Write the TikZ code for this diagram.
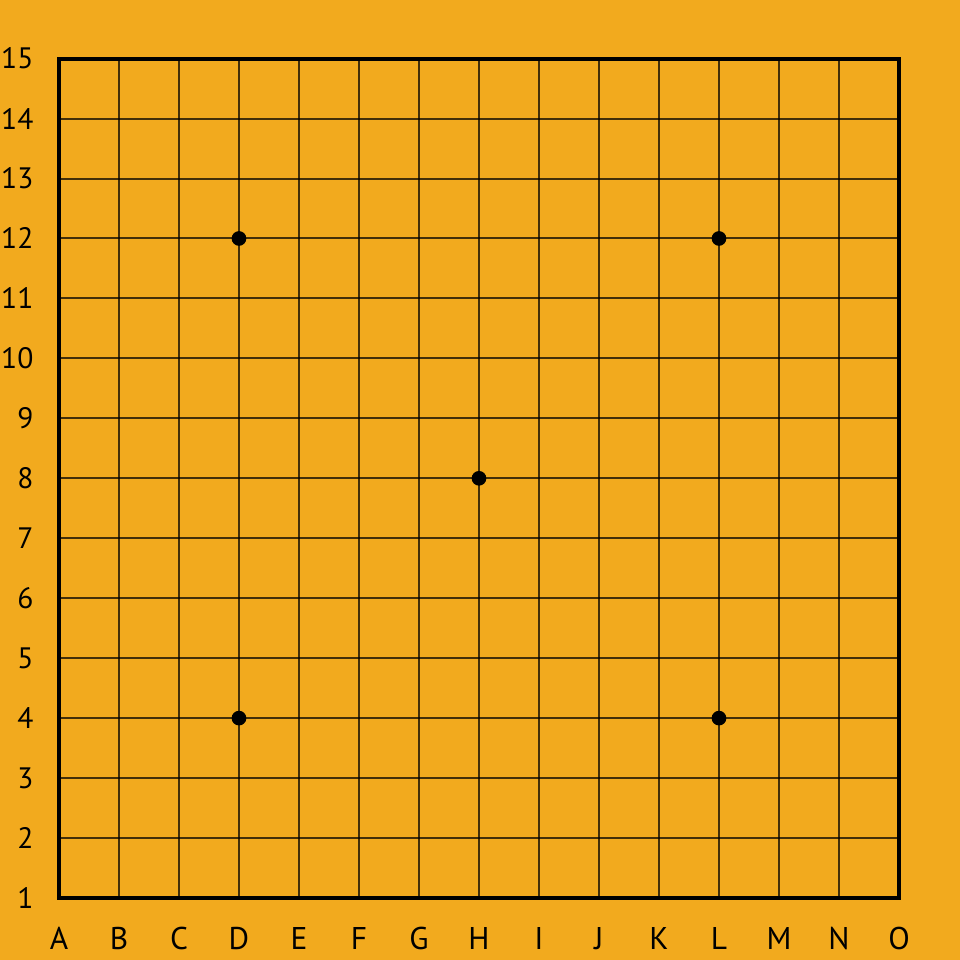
\documentclass[tikz,border=0pt]{standalone}
\usepackage{fontspec}
\setmainfont{PT Sans}
\usepackage{xcolor}
\usetikzlibrary{positioning}
\definecolor{boardbg}{HTML}{F2AA1E}

\begin{document}
\begin{tikzpicture}[
x=1cm, y=1cm,
gridline/.style={draw=black, opacity=0.72, line width=0.95pt},
border/.style={draw=black, line width=1.9pt, line join=miter},
star/.style={circle, fill=black, inner sep=0pt, minimum size=0.245cm},
rowlabel/.style={anchor=east, font=\fontsize{14}{16}\selectfont, inner sep=0pt},
collabel/.style={anchor=center, font=\fontsize{14.9}{16}\selectfont, inner sep=0pt}
]

\useasboundingbox (0,0) rectangle (16,16);
\fill[boardbg] (0,0) rectangle (16,16);

\begin{scope}[shift={(0.983,1.033)}, y=0.9993cm]
% inner lines
\foreach \i in {1,...,13} {
  \draw[gridline] (\i,0) -- (\i,14);
  \draw[gridline] (0,\i) -- (14,\i);
}
\draw[border] (0,0) rectangle (14,14);

% star points
\node[star] (s1) at (3,3) {};
\node[star] (s2) at (11,3) {};
\node[star] (s3) at (3,11) {};
\node[star] (s4) at (11,11) {};
\node[star] (s5) at (7,7) {};

% labels
\foreach \n [count=\k from 0] in {1,...,15}
  \node[rowlabel] (row\n) at (-0.42,\k) {\n};
\foreach \c [count=\k from 0] in {A,B,C,D,E,F,G,H,I,J,K,L,M,N,O}
  \node[collabel] (col\c) at (\k,-0.68) {\c};
\end{scope}

\end{tikzpicture}
\end{document}
